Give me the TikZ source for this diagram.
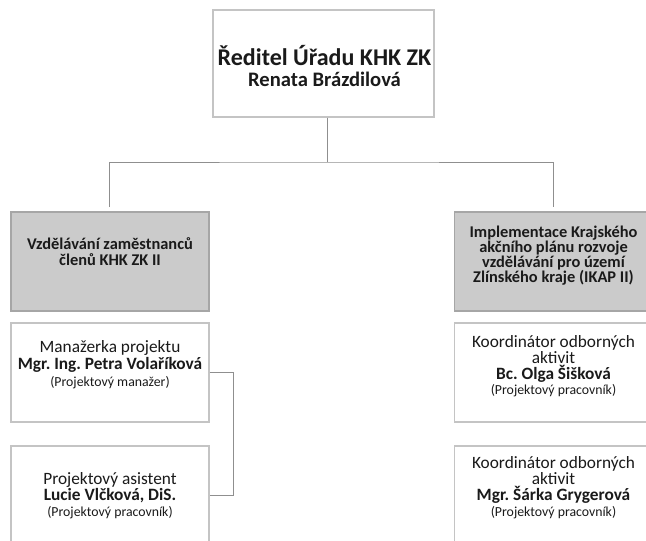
\documentclass[tikz,border=0pt]{standalone}
\usepackage{fontspec}
\setmainfont{Carlito}
\frenchspacing
\definecolor{boxgray}{HTML}{CBCBCB}
\definecolor{edgegray}{HTML}{A6A6A6}
\definecolor{lightedge}{HTML}{C4C4C4}
\definecolor{conngray}{HTML}{8F8F8F}
\definecolor{txtcol}{HTML}{1A1A1A}
\newcommand{\bigreg}{\fontsize{17.3}{16}\selectfont}
\newcommand{\namebf}{\fontsize{17.3}{16}\selectfont\bfseries}
\newcommand{\smallrole}{\fontsize{13.8}{15}\selectfont}
\begin{document}
\begin{tikzpicture}[x=1pt,y=-1pt,
  whitebox/.style={draw=lightedge,line width=1.2pt,fill=white,inner sep=0pt,minimum width=198pt,minimum height=99pt},
  graybox/.style={draw=edgegray,line width=1.2pt,fill=boxgray,inner sep=0pt,minimum width=198pt,minimum height=99pt},
  txt/.style={align=center,text=txtcol,inner sep=0pt},
  conn/.style={draw=conngray,line width=0.9pt}]
\useasboundingbox (0,0) rectangle (646,541);
% boxes
\node[whitebox,minimum width=221pt,minimum height=107pt] (dir) at (323.5,63.5) {};
\node[graybox] (g1) at (110,261.5) {};
\node[graybox] (g2) at (553.5,261.5) {};
\node[whitebox] (m1) at (110,372.5) {};
\node[whitebox] (m2) at (110,495.5) {};
\node[whitebox] (k1) at (553.5,372.5) {};
\node[whitebox] (k2) at (553.5,495.5) {};
% texts
\node[txt,font=\fontsize{24}{20.5}\selectfont\bfseries] (dirT) at (324.5,66) {Ředitel Úřadu KHK ZK\\\fontsize{20.6}{20.5}\selectfont Renata Brázdilová};
\node[txt,font=\fontsize{16.4}{16.7}\selectfont\bfseries] (g1T) at (110,251.5) {Vzdělávání zaměstnanců\\členů KHK ZK II};
\node[txt,font=\fontsize{16.4}{15}\selectfont\bfseries] (g2T) at (553.5,255.5) {Implementace Krajského\\akčního plánu rozvoje\\vzdělávání pro území\\Zlínského kraje (IKAP II)};
\node[txt,font=\fontsize{16}{17}\selectfont] (m1T) at (110,365) {\bigreg Manažerka projektu\\\namebf Mgr. Ing. Petra Volaříková\\\smallrole (Projektový manažer)};
\node[txt,font=\fontsize{16}{16}\selectfont] (m2T) at (110,496) {\bigreg Projektový asistent\\\namebf Lucie Vlčková, DiS.\\\smallrole (Projektový pracovník)};
\node[txt,font=\fontsize{16}{15.7}\selectfont] (k1T) at (553.5,366.5) {\bigreg Koordinátor odborných\\\bigreg aktivit\\\namebf Bc. Olga Šišková\\\smallrole (Projektový pracovník)};
\node[txt,font=\fontsize{16}{16}\selectfont] (k2T) at (553.5,488) {\bigreg Koordinátor odborných\\\bigreg aktivit\\\namebf Mgr. Šárka Grygerová\\\smallrole (Projektový pracovník)};
% connectors
\coordinate (jn) at (327,162);
\coordinate (endL) at (109,207);
\coordinate (endR) at (553,207);
\draw[conn] (dir.south -| jn) -- (jn);
\draw[conn] (endL) |- (jn) -| (endR);
\draw[conn] (m1.east) -- ++(24,0) |- (m2.east);
\end{tikzpicture}
\end{document}
